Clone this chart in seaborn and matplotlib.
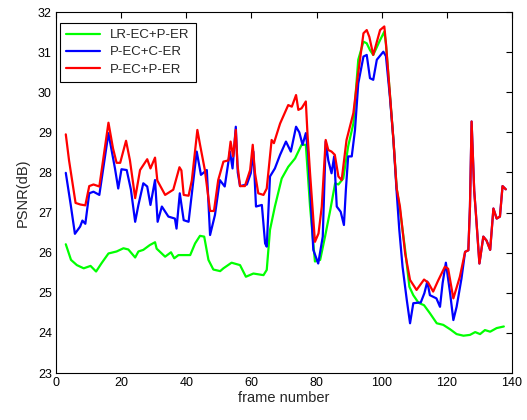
import numpy as np
import pandas as pd
import seaborn as sns
from matplotlib import pyplot as plt

# PSNR per frame
green_frames = [3, 4.6, 6.4, 8.5, 10.6, 12.3, 14, 16.1, 18.6, 20.7, 22.2, 24.3, 25.3, 26.8,
                28.8, 30.4, 30.9, 33.5, 35.3, 36.3, 37.6, 41.2, 42.7, 44.2, 45.5, 46.8, 48.3,
                50.4, 51.4, 53.9, 56.5, 58.3, 60.6, 63.7, 64.7, 65.7, 67.2, 69.3, 71.3, 73.4,
                75.4, 76.7, 78, 79.5, 81.1, 82.6, 84.2, 85.7, 86.7, 88.2, 89.7, 91.3, 92.8,
                94.4, 95.4, 96.4, 97.4, 99.5, 100.8, 101.3, 102.5, 103.6, 104.6, 105.6, 107.2,
                108.5, 109.7, 111.3, 113, 114.8, 116.9, 118.9, 121, 123, 125.1, 127.1, 128.7,
                130.2, 131.7, 133.3, 135.3, 137.5]
green_psnr = [26.21, 25.82, 25.69, 25.61, 25.67, 25.53, 25.74, 25.98, 26.03, 26.11, 26.08,
              25.88, 26.03, 26.07, 26.19, 26.26, 26.1, 25.9, 26.01, 25.86, 25.94, 25.94, 26.23,
              26.42, 26.4, 25.82, 25.58, 25.54, 25.61, 25.75, 25.69, 25.4, 25.48, 25.44, 25.57,
              26.57, 27.15, 27.85, 28.14, 28.35, 28.69, 28.69, 27.15, 25.78, 25.82, 26.4, 27.06,
              27.73, 27.7, 27.85, 28.65, 29.22, 30.81, 31.26, 31.22, 31.05, 30.93, 31.3, 31.51,
              31.2, 29.97, 28.81, 27.6, 27.07, 26.07, 25.15, 24.94, 24.75, 24.69, 24.49, 24.24,
              24.2, 24.09, 23.97, 23.93, 23.95, 24.02, 23.97, 24.07, 24.03, 24.12, 24.16]

blue_frames = [3, 4.5, 5.8, 7.4, 8.1, 9, 10.2, 11.5, 13.3, 16.1, 18.1, 19.1, 20.1, 21.7, 23,
               24.3, 25.3, 26.8, 28, 29, 30.4, 31.2, 32.5, 34.5, 36.5, 37, 38, 39.2, 40.7,
               43.2, 44.5, 46.3, 47.3, 48.8, 50.3, 51.8, 53.4, 54.2, 55.2, 55.8, 56.5, 58.6,
               59.8, 60.6, 61.4, 63.2, 64.2, 64.7, 65.7, 67.2, 68.8, 70.6, 72.1, 73.7, 74.7,
               75.7, 76.7, 77.4, 79, 80.5, 81.9, 82.8, 83.6, 84.6, 85.4, 86.2, 87.4, 88.4, 89,
               89.7, 90.8, 91.8, 92.8, 94.4, 95.4, 96.4, 97.4, 98.5, 100.5, 101.3, 102.5, 103.6,
               104.6, 105.4, 106.4, 107.7, 108.7, 109.7, 112, 113.1, 114, 114.8, 116.8, 117.9,
               118.7, 119.7, 121, 122, 123, 124.5, 125.6, 126.6, 127.1, 127.6, 128.4, 128.9,
               130, 131.2, 132.2, 133.3, 134.3, 135.3, 136.3, 137.1, 138.1]
blue_psnr = [27.99, 27.2, 26.47, 26.65, 26.8, 26.72, 27.48, 27.52, 27.44, 28.98, 28.1, 27.6,
             28.08, 28.06, 27.57, 26.77, 27.19, 27.73, 27.65, 27.19, 27.81, 26.77, 27.15, 26.9,
             26.85, 26.6, 27.48, 26.81, 26.77, 28.52, 27.94, 28.06, 26.44, 26.94, 27.81, 27.65,
             28.52, 28.1, 29.14, 28.0, 27.66, 27.7, 27.98, 28.52, 27.15, 27.19, 26.23, 26.15,
             27.9, 28.1, 28.44, 28.77, 28.52, 29.14, 29.0, 28.69, 28.98, 28.5, 26.07, 25.73,
             26.4, 28.77, 28.3, 27.98, 28.4, 27.15, 27.02, 26.69, 27.57, 28.4, 28.4, 29.06,
             30.22, 30.89, 30.93, 30.35, 30.31, 30.81, 31.01, 30.9, 29.9, 28.81, 27.5, 26.57,
             25.65, 24.82, 24.24, 24.74, 24.76, 24.99, 25.28, 24.94, 24.86, 24.65, 25.24, 25.75,
             24.99, 24.32, 24.65, 25.36, 26.02, 26.06, 27.15, 29.27, 27.55, 27.0, 25.73, 26.4,
             26.3, 26.07, 27.1, 26.85, 26.9, 27.66, 27.58]

red_frames = [3, 4, 6, 7.5, 9, 10.2, 11.5, 13.3, 16.1, 17.5, 18.6, 19.7, 21.5, 22.7, 24.3,
              25.8, 28, 29, 30.4, 31.1, 33.5, 36, 37.9, 38.5, 39.2, 40.7, 41.7, 43.4, 44.2,
              45.7, 47.3, 48.5, 49.8, 51.4, 52.9, 53.6, 54.4, 55.2, 55.7, 56.5, 58, 59.6, 60.4,
              61.1, 62.1, 63.7, 64.7, 66.2, 66.9, 68.8, 71.3, 72.4, 73.7, 74.4, 75.4, 76.7,
              77.2, 78, 79.5, 80.6, 81.6, 82.8, 83.6, 84.6, 85.6, 86.7, 87.7, 89.2, 91.3, 92.5,
              94.4, 95.4, 96.2, 97.4, 99.5, 100.8, 101.3, 102.5, 103.6, 104.6, 105.6, 107.2,
              108.7, 110.7, 113, 114.3, 115.8, 117.3, 119.4, 120.4, 122, 124, 125.6, 126.6,
              127.1, 127.6, 128.4, 128.9, 130, 131.2, 132.2, 133.3, 134.3, 135.3, 136.3, 137.1,
              138.1]
red_psnr = [28.95, 28.3, 27.24, 27.2, 27.18, 27.66, 27.7, 27.65, 29.24, 28.6, 28.24, 28.24,
            28.79, 28.3, 27.36, 28.06, 28.33, 28.1, 28.37, 27.8, 27.44, 27.57, 28.13, 28.05,
            27.44, 27.42, 27.8, 29.06, 28.7, 28.06, 27.04, 27.04, 27.81, 28.27, 28.3, 28.77,
            28.4, 29.06, 28.2, 27.66, 27.66, 28.06, 28.69, 27.98, 27.48, 27.44, 27.6, 28.81,
            28.73, 29.22, 29.68, 29.64, 29.93, 29.56, 29.6, 29.77, 28.98, 27.98, 26.27, 26.48,
            27.15, 28.81, 28.56, 28.52, 28.44, 27.9, 27.81, 28.81, 29.48, 30.3, 31.47, 31.55,
            31.38, 30.93, 31.55, 31.64, 31.22, 29.97, 28.81, 27.6, 27.15, 25.98, 25.32, 25.07,
            25.33, 25.25, 25.03, 25.3, 25.65, 25.6, 24.86, 25.4, 26.02, 26.06, 27.15, 29.27,
            27.55, 27.0, 25.73, 26.4, 26.3, 26.07, 27.1, 26.85, 26.9, 27.66, 27.58]

labels = ["LR-EC+P-ER", "P-EC+C-ER", "P-EC+P-ER"]
colors = ["#00ff00", "#0000ff", "#ff0000"]

df = pd.concat([
    pd.DataFrame({"frame": green_frames, "psnr": green_psnr, "method": labels[0]}),
    pd.DataFrame({"frame": blue_frames, "psnr": blue_psnr, "method": labels[1]}),
    pd.DataFrame({"frame": red_frames, "psnr": red_psnr, "method": labels[2]}),
])

sns.set_style("white")
plt.rcParams["font.family"] = ["Liberation Sans", "DejaVu Sans"]

fig, ax = plt.subplots(figsize=(5.27, 4.2), dpi=100)
fig.subplots_adjust(left=0.1063, right=0.9715, top=0.9714, bottom=0.1119)

sns.lineplot(data=df, x="frame", y="psnr", hue="method", hue_order=labels,
             palette=dict(zip(labels, colors)), estimator=None, sort=False,
             linewidth=1.6, ax=ax)

ax.set_xlim(0, 140)
ax.set_ylim(23, 32)
ax.set_xticks(np.arange(0, 141, 20))
ax.set_yticks(np.arange(23, 33, 1))
ax.tick_params(direction="in", top=True, right=True, length=4, width=0.8,
               labelsize=9, colors="black", pad=3)
for s in ax.spines.values():
    s.set_color("black")
    s.set_linewidth(0.8)
ax.set_xlabel("frame number", fontsize=10.5, labelpad=1)
ax.set_ylabel("PSNR(dB)", fontsize=10.5, labelpad=6)

leg = ax.legend(loc="upper left", bbox_to_anchor=(0.0088, 0.9695), borderaxespad=0,
                fontsize=9.5, frameon=True, fancybox=False, framealpha=1,
                edgecolor="black", handlelength=2.6, labelspacing=0.38,
                borderpad=0.45, handletextpad=0.75)
leg.get_frame().set_linewidth(0.8)
for line in leg.get_lines():
    line.set_linewidth(1.6)

fig.savefig("out.png", dpi=100, facecolor="white")
